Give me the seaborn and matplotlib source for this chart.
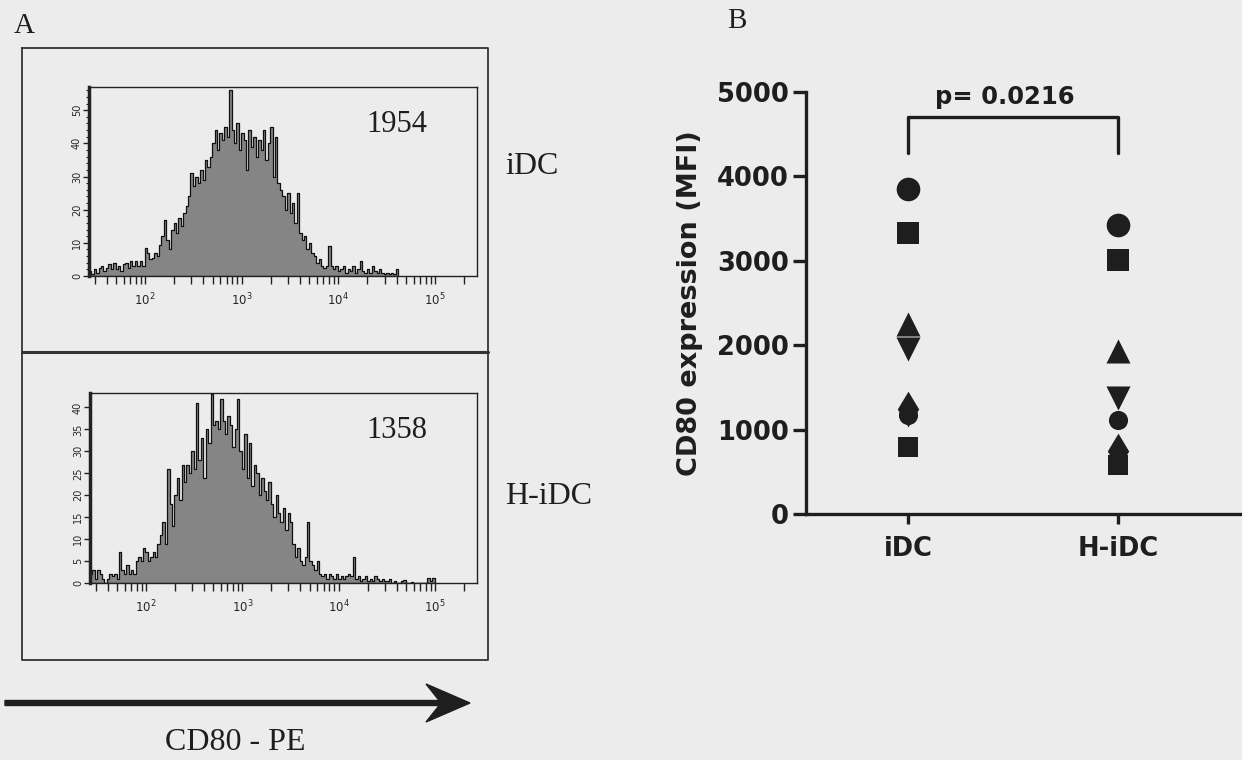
import numpy as np
import pandas as pd
import matplotlib.pyplot as plt
import matplotlib.ticker as mticker
import seaborn as sns

sns.set_theme(style="ticks")
plt.rcParams['font.family'] = ['DejaVu Sans']

BG = '#ececec'
INK = '#1e1e1e'
SERIF = ['Liberation Serif', 'DejaVu Serif']

# ---- Panel A: CD80-PE histograms (counts per log10 bin) ----
log_start = 1.42      # first bin edge, log10 units
bin_w = 0.025         # bin width, log10 units

idc_counts = [
    1.5, 0.5, 2, 1, 2.5, 3, 1.5, 2.5, 3.5, 2,
    4, 2, 3, 1.5, 3.5, 4, 2.5, 4.5, 3, 4.5,
    3, 4.5, 3, 8.5, 7, 5, 5.5, 7, 6, 9.5,
    12, 17, 11, 8, 14, 16, 13, 17.5, 15, 19,
    21, 24, 31, 27, 30, 28, 32, 29, 35, 33,
    36, 40, 44, 38, 43, 41, 45, 42, 56, 44,
    40, 46, 38, 43, 41, 32, 44, 39, 42, 36,
    41, 38, 44, 35, 40, 45, 30, 42, 28, 26,
    24, 20, 25, 19, 22, 16, 25, 13, 11, 12,
    8, 10, 7, 6, 4, 5, 3, 2.5, 3, 9,
    3, 2, 3, 1.5, 2, 3, 1, 2, 1.5, 3,
    1, 2, 4.5, 1.5, 1, 2, 1, 3, 1.5, 1,
    2, 1, 0.5, 1, 0.5, 1, 0.5, 2,
]

hidc_counts = [
    2, 3, 1, 3, 2, 1, 0, 1, 2, 1.5,
    2, 1, 7, 3, 2, 4, 2, 3, 2, 5,
    6, 5, 8, 7, 5, 6, 7, 6, 9, 11,
    14, 9, 26, 18, 13, 20, 24, 19, 27, 23,
    27, 25, 30, 26, 41, 28, 33, 24, 35, 32,
    43, 36, 37, 35, 42, 37, 34, 38, 36, 31,
    35, 42, 30, 26, 34, 24, 32, 22, 27, 25,
    20, 24, 21, 19, 23, 18, 15, 20, 16, 14,
    17, 12, 16, 14, 9, 6, 8, 5, 4, 6,
    14, 5, 4, 3, 5, 2, 1.5, 2, 1, 2,
    1.5, 1, 2, 1, 1.5, 1, 1.5, 2, 1.5, 6,
    1, 1.5, 0.5, 1, 1.5, 0.5, 1, 0.5, 1.5, 1,
    0.5, 1, 0.5, 0.5, 1, 0, 0.5, 0, 0, 0.5,
    0.7, 0, 0, 0.3, 0, 0, 0, 0, 0, 0,
    1.2, 0.5, 1.2,
]

hist_mfi = ['1954', '1358']
hist_names = ['iDC', 'H-iDC']

# ---- Panel B: CD80 MFI per donor ----
groups = ['iDC', 'H-iDC']
donor_markers = ['o', 's', '^', 'v', 'd', 'o', 's']
donor_sizes = [290, 250, 300, 300, 330, 190, 200]
idc_mfi = [3850, 3330, 2250, 1960, 1240, 1170, 790]
hidc_mfi = [3430, 3010, 1935, 1370, 750, 1110, 580]
p_text = 'p= 0.0216'

fig = plt.figure(figsize=(12.42, 7.6), dpi=100, facecolor=BG)

# overlay in pixel coordinates for the frame, arrow and labels of panel A
ov = fig.add_axes([0, 0, 1, 1], zorder=-1)
ov.set_xlim(0, 1242)
ov.set_ylim(760, 0)
ov.axis('off')
ov.set_facecolor(BG)
ov.plot([22, 488, 488, 22, 22], [48, 48, 660, 660, 48], color='#333333', lw=1.3)
ov.plot([22, 488], [352, 352], color='#333333', lw=2.2)
ov.arrow(5, 703, 465, 0, width=5, head_width=38, head_length=44,
         length_includes_head=True, overhang=0.3, color=INK)
ov.text(235, 742, 'CD80 - PE', family=SERIF, fontsize=23, ha='center', va='center', color=INK)
ov.text(24, 26, 'A', family=SERIF, fontsize=21, ha='center', va='center', color=INK)
ov.text(737, 21, 'B', family=SERIF, fontsize=21, ha='center', va='center', color=INK)
ov.text(505, 167, hist_names[0], family=SERIF, fontsize=23, ha='left', va='center', color=INK)
ov.text(505, 497, hist_names[1], family=SERIF, fontsize=23, ha='left', va='center', color=INK)

hist_axes = [
    fig.add_axes([89 / 1242, 1 - 276 / 760, 388 / 1242, 189 / 760]),
    fig.add_axes([90 / 1242, 1 - 583 / 760, 387 / 1242, 190 / 760]),
]
hist_data = [idc_counts, hidc_counts]
hist_ylim = [57, 43.3]
hist_major = [10, 5]
hist_minor = [2, None]

for ax, counts, mfi, ytop, maj, mnr in zip(hist_axes, hist_data, hist_mfi,
                                          hist_ylim, hist_major, hist_minor):
    n = len(counts)
    centers = 10 ** (log_start + bin_w * (np.arange(n) + 0.5))
    sns.histplot(x=centers, weights=counts, binwidth=bin_w,
                 binrange=(log_start, log_start + bin_w * n), log_scale=True,
                 element='step', fill=True, color='#858585', alpha=1,
                 edgecolor='#111111', linewidth=0.9, ax=ax)
    ax.set_facecolor(BG)
    ax.set_xlim(10 ** 1.42, 10 ** 5.434)
    ax.set_ylim(0, ytop)
    ax.set_xlabel('')
    ax.set_ylabel('')
    ax.xaxis.set_major_locator(mticker.LogLocator(base=10, numticks=10))
    ax.xaxis.set_minor_locator(mticker.LogLocator(base=10, subs=np.arange(2, 10), numticks=20))
    ax.xaxis.set_minor_formatter(mticker.NullFormatter())
    ax.yaxis.set_major_locator(mticker.MultipleLocator(maj))
    if mnr:
        ax.yaxis.set_minor_locator(mticker.MultipleLocator(mnr))
    for s in ax.spines.values():
        s.set_visible(True)
        s.set_color('#222222')
        s.set_linewidth(1.0)
    ax.spines['left'].set_linewidth(2.5)
    ax.tick_params(axis='x', which='both', direction='out', length=6, width=1,
                   color='#222222', labelsize=8.5, pad=5)
    ax.tick_params(axis='y', which='major', direction='out', length=4, width=1,
                   color='#222222', labelsize=7, pad=1)
    ax.tick_params(axis='y', which='minor', direction='out', length=2.5, width=0.8,
                   color='#222222')
    for lab in ax.get_yticklabels():
        lab.set_rotation(90)
        lab.set_va('center')
    ax.text(0.794, 0.8, mfi, transform=ax.transAxes, family=SERIF, fontsize=22,
            ha='center', va='center', color=INK)

# ---- Panel B ----
rows = []
for gi, (g, vals) in enumerate(zip(groups, [idc_mfi, hidc_mfi])):
    for di, v in enumerate(vals):
        rows.append({'group': g, 'pos': gi, 'donor': di, 'mfi': v})
df = pd.DataFrame(rows)

axb = fig.add_axes([806 / 1242, 1 - 514 / 760, 436 / 1242, 422 / 760])
axb.set_facecolor('none')
for di in range(len(donor_markers)):
    sub = df[df['donor'] == di]
    sns.scatterplot(data=sub, x='pos', y='mfi', marker=donor_markers[di],
                    s=donor_sizes[di], color=INK, edgecolor=INK, linewidth=0,
                    legend=False, ax=axb, zorder=3)

axb.set_xlim(-0.486, 1.59)
axb.set_ylim(0, 5000)
axb.set_xticks(range(len(groups)))
axb.set_xticklabels(groups)
axb.set_yticks(range(0, 5001, 1000))
axb.set_xlabel('')
axb.set_ylabel('CD80 expression (MFI)', fontsize=19.5, fontweight='bold', color=INK)
axb.yaxis.set_label_coords(-0.236, 0.5)
sns.despine(ax=axb)
for side in ['left', 'bottom']:
    axb.spines[side].set_linewidth(2.4)
    axb.spines[side].set_color(INK)
axb.tick_params(axis='y', length=9.5, width=2.4, color=INK, labelsize=18.5, pad=3)
axb.tick_params(axis='x', length=7, width=2.4, color=INK, labelsize=18.5, pad=9)
for lab in axb.get_xticklabels() + axb.get_yticklabels():
    lab.set_fontweight('bold')
    lab.set_color(INK)

# significance bracket
axb.plot([0, 0, 1, 1], [4280, 4705, 4705, 4280], color=INK, lw=2.4, clip_on=False)
axb.text(0.46, 4945, p_text, fontsize=17.5, fontweight='bold', ha='center', va='center',
         color=INK, clip_on=False)

fig.savefig('out.png', dpi=100, facecolor=BG)
